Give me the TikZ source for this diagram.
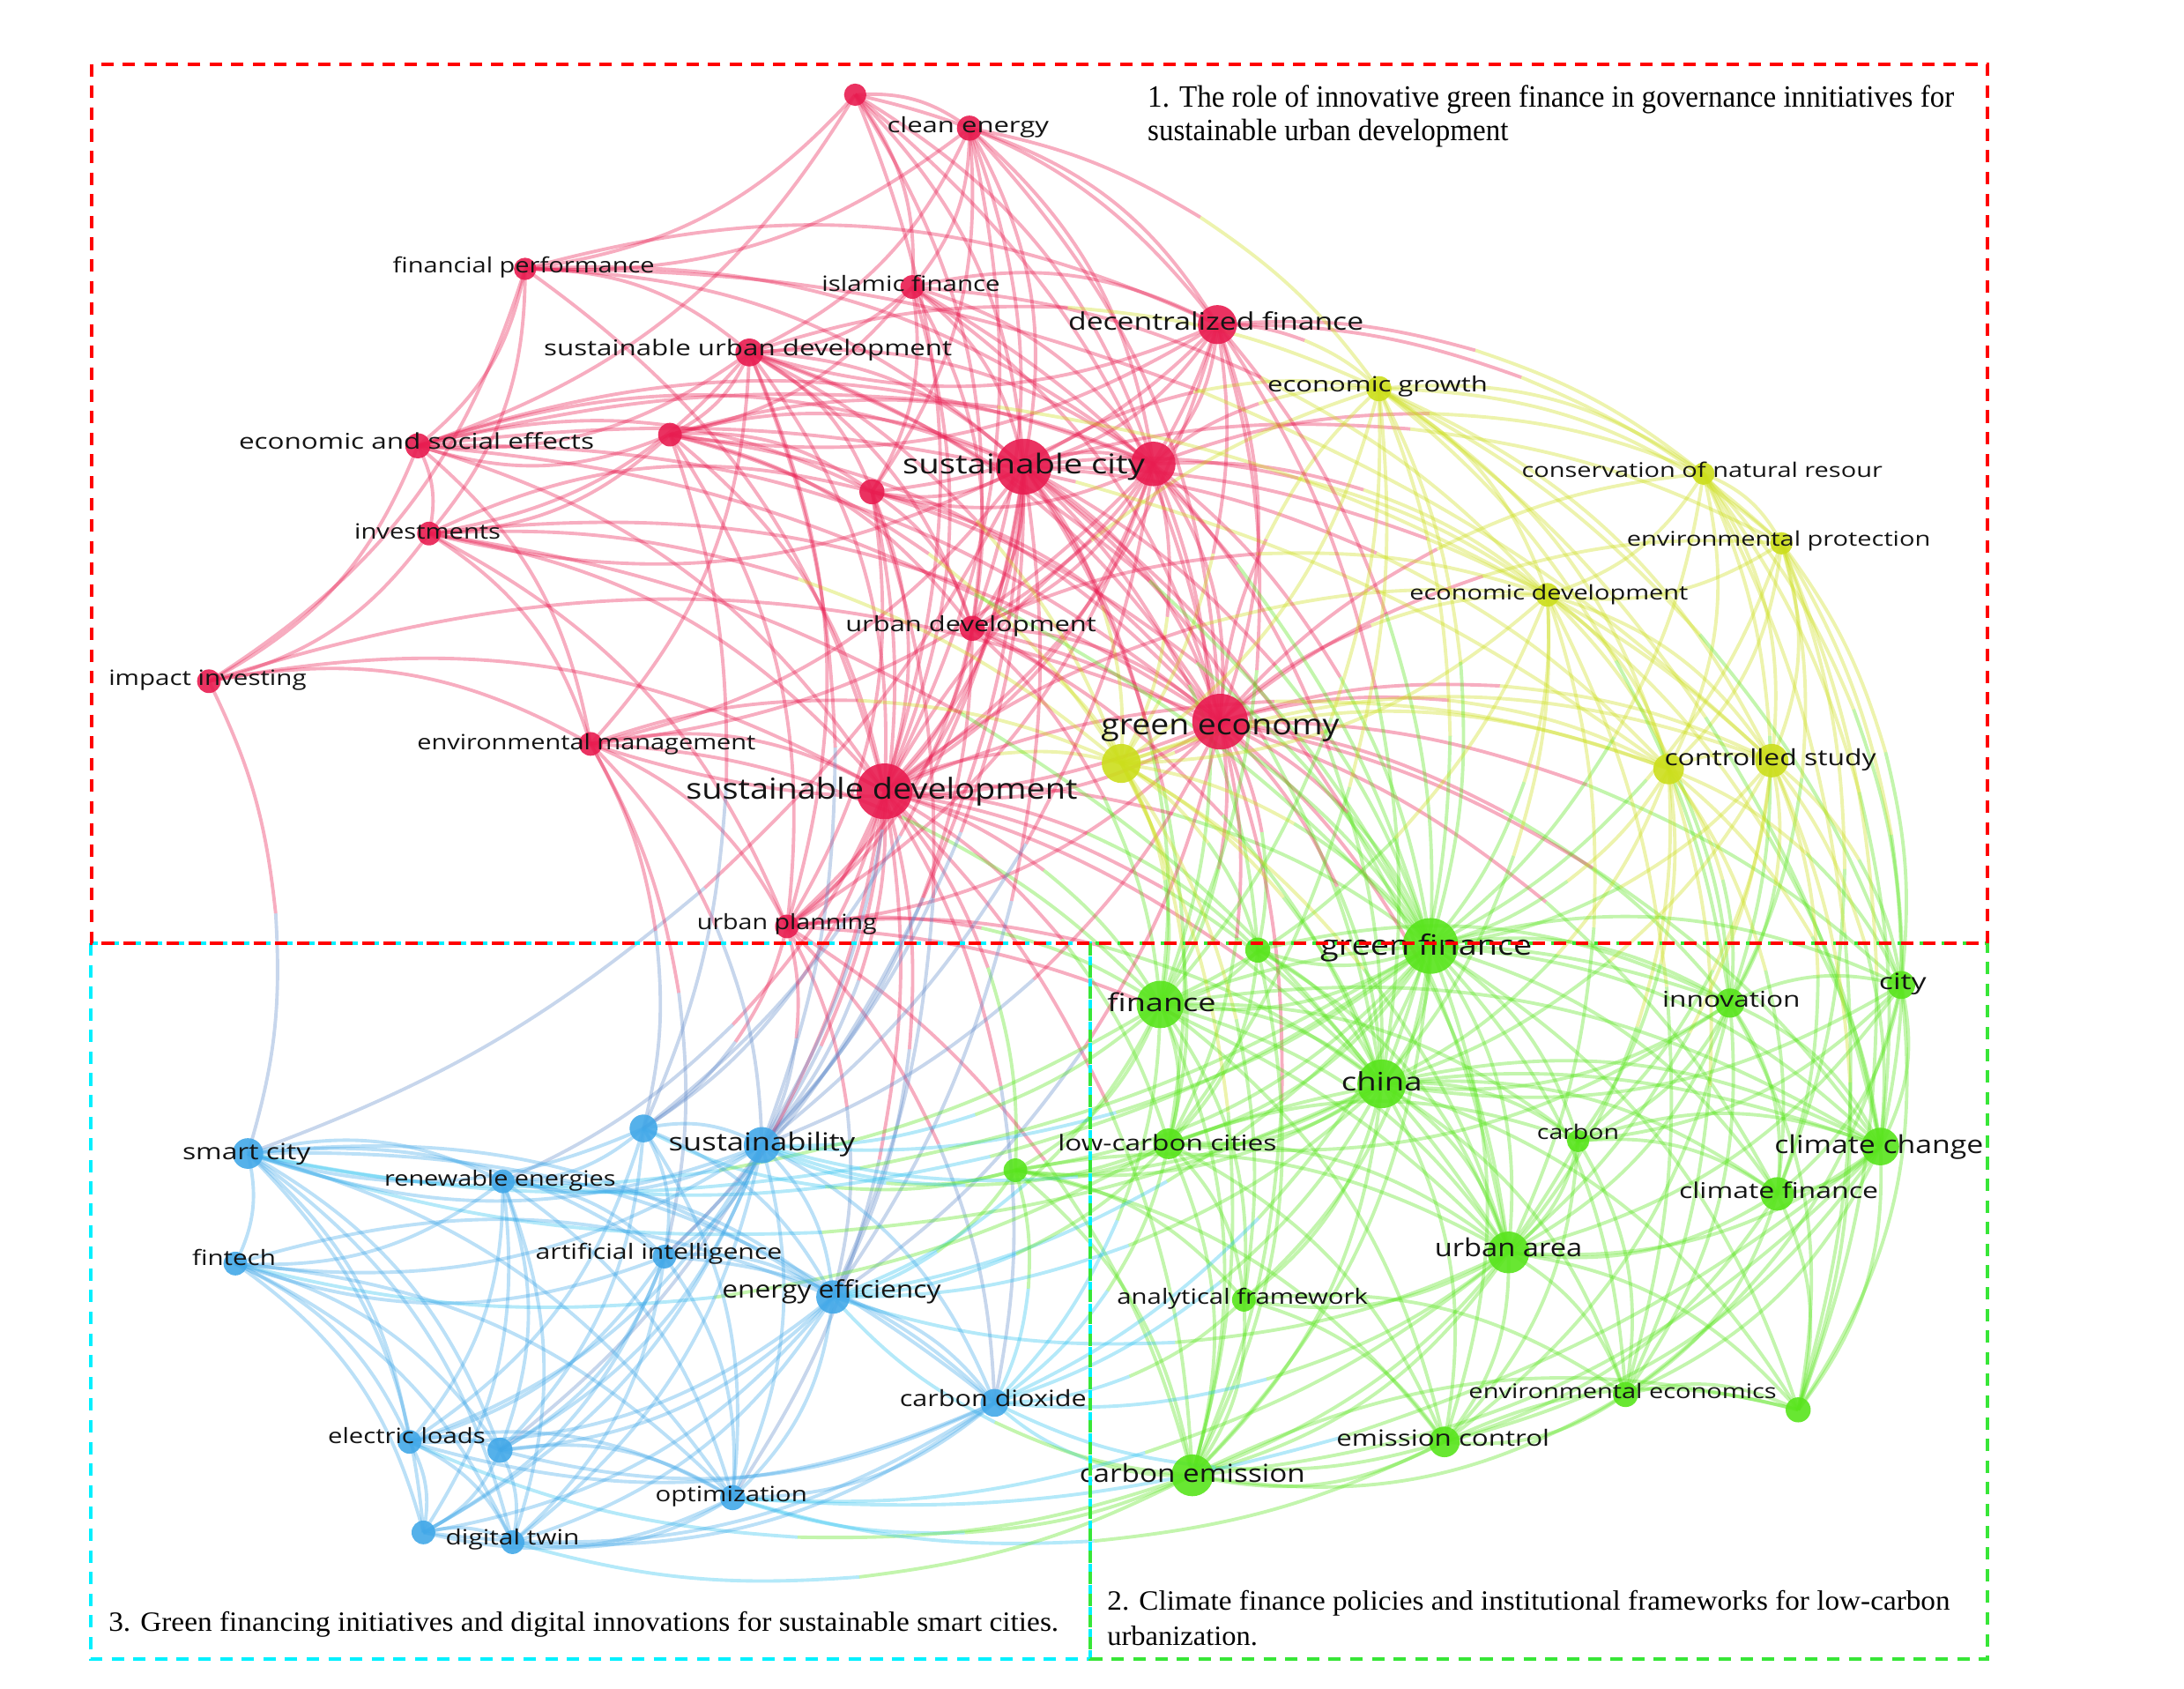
\documentclass[tikz,border=0pt]{standalone}
\usepackage{fontspec}
\usepackage{graphicx}
\newfontfamily\lblfont{Open Sans}
\newfontfamily\serifT{Liberation Serif}
\newdimen\pxu \pxu=0.015804cm
\definecolor{rc}{RGB}{232,28,80}
\definecolor{yc}{RGB}{204,222,28}
\definecolor{gc}{RGB}{88,228,28}
\definecolor{bc}{RGB}{66,168,232}
\definecolor{boxred}{RGB}{255,0,0}
\definecolor{boxcyan}{RGB}{0,240,255}
\definecolor{boxgreen}{RGB}{55,230,55}
\pgfdeclarelayer{edgelayer}
\pgfdeclarelayer{labellayer}
\pgfdeclarelayer{boxlayer}
\pgfsetlayers{edgelayer,main,labellayer,boxlayer}
\tikzset{
  nd/.style 2 args={circle, inner sep=0pt, outer sep=0pt, fill=#1, fill opacity=0.9, minimum size=#2*0.8994pt},
  lk/.style={draw=#1, line width=1.1pt, draw opacity=0.36},
  lbl/.style={inner sep=0pt, outer sep=0pt, text=black!92, anchor=base},
  ttl/.style={inner sep=0pt, outer sep=0pt, anchor=base west, text=black},
  dbox/.style={draw=#1, line width=1.1pt, dash pattern=on 4pt off 3pt},
}
\newcommand\mklab[6]{\node[lbl, yshift={-0.27*#4pt}] (#1) at (#2,#3) {\lblfont\fontsize{#4}{#4}\selectfont\resizebox{#5\pxu}{\height}{#6}};}
% two-coloured link: first half in colour #1, second half in colour #2
\newcommand\duolink[4]{%
  \path (#3.center) to[bend left=20] coordinate[pos=0.5] (mm) (#4.center);
  \draw[lk=#1] (#3.center) to[bend left=10] (mm);
  \draw[lk=#2] (mm) to[bend left=10] (#4.center);}
\begin{document}
\begin{tikzpicture}[x=0.015804cm, y=-0.015804cm]
\useasboundingbox (0,0) rectangle (1568,1211.8);
% ---------- red cluster
\node[nd={rc}{8}]  (r1)  at (614,68) {};
\node[nd={rc}{9}]  (ce)  at (696,92) {};
\node[nd={rc}{8}]  (fp)  at (377,193) {};
\node[nd={rc}{8.5}](isf) at (655,206) {};
\node[nd={rc}{14}] (df)  at (874,233) {};
\node[nd={rc}{10}] (sud) at (538,253) {};
\node[nd={rc}{8.5}](r2)  at (481,312) {};
\node[nd={rc}{9}]  (ese) at (300,320) {};
\node[nd={rc}{20}] (sc)  at (735,335) {};
\node[nd={rc}{16}] (r3)  at (828,333) {};
\node[nd={rc}{9}]  (r4)  at (626,353) {};
\node[nd={rc}{8.5}](inv) at (308,383) {};
\node[nd={rc}{9}]  (ud)  at (698,451) {};
\node[nd={rc}{8.5}](ii)  at (150,489) {};
\node[nd={rc}{20}] (ge)  at (876,518) {};
\node[nd={rc}{8.5}](em)  at (424,534) {};
\node[nd={rc}{20}] (sd)  at (635,568) {};
\node[nd={rc}{8.5}](up)  at (565,665) {};
% ---------- yellow cluster
\node[nd={yc}{9}]  (eg)  at (990,279) {};
\node[nd={yc}{8}]  (cnr) at (1223,340) {};
\node[nd={yc}{8}]  (ep)  at (1279,390) {};
\node[nd={yc}{8.5}](ed)  at (1111,427) {};
\node[nd={yc}{14}] (y1)  at (805,548) {};
\node[nd={yc}{11}] (y2)  at (1198,552) {};
\node[nd={yc}{12}] (cs)  at (1272,546) {};
% ---------- green cluster
\node[nd={gc}{20}] (gf)  at (1027,679) {};
\node[nd={gc}{9}]  (g1)  at (903,682) {};
\node[nd={gc}{17}] (fin) at (833,721) {};
\node[nd={gc}{10.5}](inn) at (1242,720) {};
\node[nd={gc}{10}] (city) at (1365,707) {};
\node[nd={gc}{17.5}](ch) at (992,778) {};
\node[nd={gc}{11}] (lcc) at (839,821) {};
\node[nd={gc}{8}]  (carb) at (1133,819) {};
\node[nd={gc}{13.5}](cc) at (1350,823) {};
\node[nd={gc}{12}] (cf)  at (1276,857) {};
\node[nd={gc}{8.5}](g2)  at (729,840) {};
\node[nd={gc}{15}] (ua)  at (1083,899) {};
\node[nd={gc}{8.5}](af)  at (893,933) {};
\node[nd={gc}{9}]  (ee)  at (1167,1001) {};
\node[nd={gc}{9}]  (g3)  at (1291,1012) {};
\node[nd={gc}{11}] (ec)  at (1037,1035) {};
\node[nd={gc}{15}] (cem) at (856,1059) {};
% ---------- blue cluster
\node[nd={bc}{10}] (b1)  at (462,810) {};
\node[nd={bc}{13}] (sus) at (547,822) {};
\node[nd={bc}{11}] (smc) at (178,828) {};
\node[nd={bc}{8.5}](re)  at (361,848) {};
\node[nd={bc}{8.5}](ai)  at (477,902) {};
\node[nd={bc}{8.5}](ft)  at (169,907) {};
\node[nd={bc}{12}] (eef) at (598,931) {};
\node[nd={bc}{10}] (cd)  at (714,1007) {};
\node[nd={bc}{8.5}](el)  at (294,1035) {};
\node[nd={bc}{9}]  (b2)  at (359,1041) {};
\node[nd={bc}{9}]  (opt) at (526,1075) {};
\node[nd={bc}{8.5}](b3)  at (304,1100) {};
\node[nd={bc}{8.5}](dt)  at (368,1107) {};

\begin{pgfonlayer}{edgelayer}
% red-red
\foreach \a/\b in {r1/ce, r1/fp, r1/isf, r1/sc, r1/sd, r1/r3, r1/df, r1/ese, r1/ud, r1/ge,
 ce/isf, ce/df, ce/sc, ce/r3, ce/sud, ce/sd, ce/ge, ce/fp, ce/ud, ce/r4,
 fp/sud, fp/ese, fp/inv, fp/ii, fp/sc, fp/sd, fp/r3, fp/df,
 isf/sud, isf/sc, isf/r3, isf/df, isf/sd, isf/ge, isf/r2, isf/r4, isf/ud,
 df/sud, df/sc, df/r3, df/sd, df/ge, df/ud, df/r4, df/r2,
 sud/r2, sud/ese, sud/sc, sud/r3, sud/sd, sud/ge, sud/r4, sud/ud, sud/inv, sud/em, sud/up,
 r2/ese, r2/inv, r2/sc, r2/r3, r2/sd, r2/ge, r2/r4, r2/ud, r2/up,
 ese/inv, ese/ii, ese/sc, ese/sd, ese/ge, ese/r4, ese/em, ese/r3,
 sc/r3, sc/r4, sc/ud, sc/ge, sc/sd, sc/em, sc/up, sc/inv,
 r3/r4, r3/ud, r3/ge, r3/sd, r3/up, r3/em,
 r4/ud, r4/ge, r4/sd, r4/up,
 inv/ii, inv/sd, inv/ge, inv/em, inv/up, inv/r4,
 ud/ge, ud/sd, ud/up, ii/em, ii/sd, ii/ge,
 ge/sd, ge/em, ge/up, em/sd, em/up, sd/up}
 \draw[lk=rc] (\a.center) to[bend left=20] (\b.center);
% red-yellow
\foreach \a/\b in {sc/eg, sc/ed, sc/y1, sc/cs, sc/y2, sc/ep, r3/eg, r3/ed, r3/y1, r3/cnr,
 df/eg, df/ep, df/cnr, df/y1, ge/eg, ge/ed, ge/y1, ge/y2, ge/cs, ge/ep, ge/cnr,
 sd/y1, sd/ed, sd/y2, sd/eg, ud/y1, ud/ed, ce/eg, isf/ed, sud/y1, fp/cs, r2/y1,
 em/y1, inv/y1, ese/y2, ese/ed, sud/eg}
 {\duolink{rc}{yc}{\a}{\b}}
% red-green
\foreach \a/\b in {sc/gf, sc/fin, sc/ch, sc/g1, sc/lcc, sc/ua, sd/gf, sd/fin, sd/ch, sd/lcc,
 sd/cem, sd/g2, sd/ua, sd/g1, ge/gf, ge/fin, ge/ch, ge/inn, ge/g1, ge/lcc, ge/ua, ge/city,
 ge/cc, ge/cem, ge/cf, ud/gf, ud/fin, ud/ch, r3/gf, r3/fin, r3/ch, df/gf, df/fin, df/ch,
 up/cem, up/fin, up/ua, r4/gf, sud/gf, isf/gf, em/fin, up/ch, inv/ch, ese/gf}
 {\duolink{rc}{gc}{\a}{\b}}
% red-blue
\foreach \a/\b in {sd/sus, sd/b1, sd/eef, sd/ai, sd/re, sd/cd, sd/opt, sc/sus, sc/b1, sc/eef,
 sc/smc, ii/smc, up/sus, up/eef, up/b1, up/cd, em/sus, em/b1, em/ai, r3/sus, ge/sus,
 ge/eef, sud/sus, r2/b1, sd/b2, ud/sus, sc/ai, r4/eef, r4/sus}
 {\duolink{rc}{bc!80!rc}{\a}{\b}}
% yellow-yellow
\foreach \a/\b in {eg/cnr, eg/ep, eg/ed, eg/y1, eg/y2, eg/cs, cnr/ep, cnr/ed, cnr/y2, cnr/cs,
 ep/ed, ep/y2, ep/cs, ed/y1, ed/y2, ed/cs, y1/y2, y1/cs, y2/cs}
 \draw[lk=yc] (\a.center) to[bend left=20] (\b.center);
% yellow-green
\foreach \a/\b in {eg/gf, eg/fin, eg/ch, eg/inn, eg/city, eg/cc, cnr/gf, cnr/city, cnr/cc,
 cnr/inn, ep/gf, ep/city, ep/cc, ep/inn, ep/cf, ed/gf, ed/ch, ed/inn, ed/ua, ed/cc, ed/fin,
 y1/gf, y1/fin, y1/ch, y1/lcc, y1/ua, y1/g1, y1/cem, y2/gf, y2/inn, y2/city, y2/ch, y2/cc,
 y2/cf, y2/ua, cs/gf, cs/inn, cs/city, cs/cc, cs/cf, cs/ua, cs/g3, cs/ch, ep/g3, y2/ee,
 ed/ee, y1/af, eg/lcc, cnr/g3, cs/carb, y2/carb}
 {\duolink{yc}{gc}{\a}{\b}}
% green-green
\foreach \a/\b in {gf/g1, gf/fin, gf/inn, gf/city, gf/ch, gf/lcc, gf/carb, gf/cc, gf/cf, gf/ua,
 gf/af, gf/ee, gf/g3, gf/ec, gf/cem, gf/g2,
 g1/fin, g1/ch, g1/lcc, g1/ua, g1/inn, g1/cem,
 fin/ch, fin/lcc, fin/ua, fin/af, fin/cem, fin/g2, fin/inn, fin/carb, fin/ec, fin/cc,
 inn/city, inn/ch, inn/carb, inn/cc, inn/cf, inn/ua, inn/ee, inn/g3, inn/ec, inn/lcc,
 city/ch, city/cc, city/cf, city/ua, city/carb, city/g3, city/ee,
 ch/lcc, ch/carb, ch/cc, ch/cf, ch/ua, ch/af, ch/ee, ch/ec, ch/cem, ch/g2, ch/g3,
 lcc/carb, lcc/ua, lcc/af, lcc/ec, lcc/cem, lcc/g2, lcc/cc,
 carb/cc, carb/cf, carb/ua, carb/ee, carb/ec, carb/cem,
 cc/cf, cc/ua, cc/ee, cc/g3, cc/ec, cc/cem, cf/ua, cf/ee, cf/g3, cf/ec,
 g2/ua, g2/af, g2/cem, g2/ec, ua/af, ua/ee, ua/ec, ua/cem, ua/g3,
 af/ec, af/cem, af/ee, ee/ec, ee/cem, ee/g3, ec/cem, ec/g3, cem/g3}
 \draw[lk=gc] (\a.center) to[bend left=20] (\b.center);
% green-blue
\foreach \a/\b in {g2/sus, g2/eef, g2/cd, g2/b1, fin/sus, fin/eef, fin/cd, fin/smc, gf/sus,
 gf/eef, gf/cd, gf/smc, ch/sus, ch/eef, ch/cd, lcc/eef, lcc/cd, lcc/sus, cem/cd, cem/eef,
 cem/opt, ua/cd, ua/eef, ec/cd, af/cd, ua/opt, lcc/ft, gf/re, ch/smc, cem/el, ec/opt,
 cc/opt, cem/dt}
 {\duolink{gc}{bc!70!cyan}{\a}{\b}}
% blue-blue
\foreach \a/\b in {b1/sus, b1/smc, b1/re, b1/ai, b1/eef, b1/el, b1/b2, b1/opt,
 sus/smc, sus/re, sus/ai, sus/ft, sus/eef, sus/cd, sus/el, sus/b2, sus/opt, sus/b3, sus/dt,
 smc/re, smc/ai, smc/ft, smc/eef, smc/el, smc/b2, smc/b3, smc/dt, smc/opt, smc/cd,
 re/ai, re/ft, re/eef, re/el, re/b2, re/opt, re/dt, re/b3,
 ai/ft, ai/eef, ai/cd, ai/el, ai/b2, ai/opt, ai/b3, ai/dt,
 ft/eef, ft/el, ft/b2, ft/b3, ft/dt, ft/opt,
 eef/cd, eef/el, eef/b2, eef/opt, eef/b3, eef/dt,
 cd/el, cd/b2, cd/opt, cd/dt, cd/b3, el/b2, el/b3, el/dt, el/opt,
 b2/opt, b2/b3, b2/dt, opt/b3, opt/dt, b3/dt}
 \draw[lk=bc] (\a.center) to[bend left=20] (\b.center);
\end{pgfonlayer}

\begin{pgfonlayer}{labellayer}
\mklab{Lce}{695}{91}{6.8}{116}{clean energy}
\mklab{Lfp}{376}{192}{6.8}{188}{financial performance}
\mklab{Lisf}{654}{205}{6.8}{128}{islamic finance}
\mklab{Ldf}{873}{232}{7.8}{212}{decentralized finance}
\mklab{Lsud}{537}{251}{7.0}{293}{sustainable urban development}
\mklab{Lese}{299}{318}{7.0}{255}{economic and social effects}
\mklab{Lsc}{735}{335}{8.8}{174}{sustainable city}
\mklab{Linv}{307}{383}{6.8}{105}{investments}
\mklab{Lud}{697}{449}{6.8}{180}{urban development}
\mklab{Lii}{149}{488}{6.8}{142}{impact investing}
\mklab{Lge}{876}{522}{9.3}{171}{green economy}
\mklab{Lem}{421}{534}{6.8}{243}{environmental management}
\mklab{Lsd}{633}{568}{9.3}{281}{sustainable development}
\mklab{Lup}{565}{663}{6.8}{129}{urban planning}
\mklab{Leg}{989}{277}{6.8}{158}{economic growth}
\mklab{Lcnr}{1222}{339}{6.5}{259}{conservation of natural resour}
\mklab{Lep}{1277}{388}{6.5}{218}{environmental protection}
\mklab{Led}{1112}{427}{6.5}{200}{economic development}
\mklab{Lcs}{1271}{545}{7.2}{152}{controlled study}
\mklab{Lgf}{1024}{680}{9.0}{152}{green finance}
\mklab{Lfin}{834}{721}{8.0}{78}{finance}
\mklab{Linn}{1243}{719}{7.0}{99}{innovation}
\mklab{Lcity}{1366}{706}{7.2}{34}{city}
\mklab{Lch}{992}{778}{8.2}{58}{china}
\mklab{Llcc}{838}{822}{7.0}{157}{low-carbon cities}
\mklab{Lcarb}{1133}{814}{6.5}{59}{carbon}
\mklab{Lcc}{1349}{823}{8.0}{150}{climate change}
\mklab{Lcf}{1277}{856}{7.0}{143}{climate finance}
\mklab{Lua}{1083}{897}{8.0}{106}{urban area}
\mklab{Laf}{892}{932}{6.8}{180}{analytical framework}
\mklab{Lee}{1165}{1000}{6.5}{221}{environmental economics}
\mklab{Lec}{1036}{1034}{7.2}{153}{emission control}
\mklab{Lcem}{856}{1059}{8.0}{162}{carbon emission}
\mklab{Lsus}{547}{821}{8.0}{134}{sustainability}
\mklab{Lsmc}{177}{828}{7.2}{92}{smart city}
\mklab{Lre}{359}{847}{6.8}{166}{renewable energies}
\mklab{Lai}{473}{900}{6.8}{177}{artificial intelligence}
\mklab{Lft}{168}{904}{6.8}{60}{fintech}
\mklab{Leef}{597}{927}{7.8}{157}{energy efficiency}
\mklab{Lcd}{713}{1005}{7.2}{134}{carbon dioxide}
\mklab{Lel}{292}{1032}{6.8}{113}{electric loads}
\mklab{Lopt}{525}{1074}{6.8}{109}{optimization}
\mklab{Ldt}{368}{1105}{6.8}{96}{digital twin}
\end{pgfonlayer}

\begin{pgfonlayer}{boxlayer}
\draw[dbox=boxcyan] (65,677) rectangle (783,1191);
\draw[dbox=boxgreen] (783,677) rectangle (1427,1191);
\draw[dbox=boxred] (66,46) rectangle (1427,677);
\node[ttl] (t1a) at (824,76.8) {\serifT\fontsize{10}{12}\selectfont\resizebox{579\pxu}{\height}{1. The role of innovative green finance in governance innitiatives for}};
\node[ttl] (t1b) at (824,101) {\serifT\fontsize{10}{12}\selectfont\resizebox{259\pxu}{\height}{sustainable urban development}};
\node[ttl] (t3) at (78,1171) {\serifT\fontsize{9}{11}\selectfont\resizebox{682\pxu}{\height}{3. Green financing initiatives and digital innovations for sustainable smart cities.}};
\node[ttl] (t2a) at (795,1155.5) {\serifT\fontsize{9}{11}\selectfont\resizebox{605\pxu}{\height}{2. Climate finance policies and institutional frameworks for low-carbon}};
\node[ttl] (t2b) at (795,1181) {\serifT\fontsize{9}{11}\selectfont\resizebox{108\pxu}{\height}{urbanization.}};
\end{pgfonlayer}
\end{tikzpicture}
\end{document}
